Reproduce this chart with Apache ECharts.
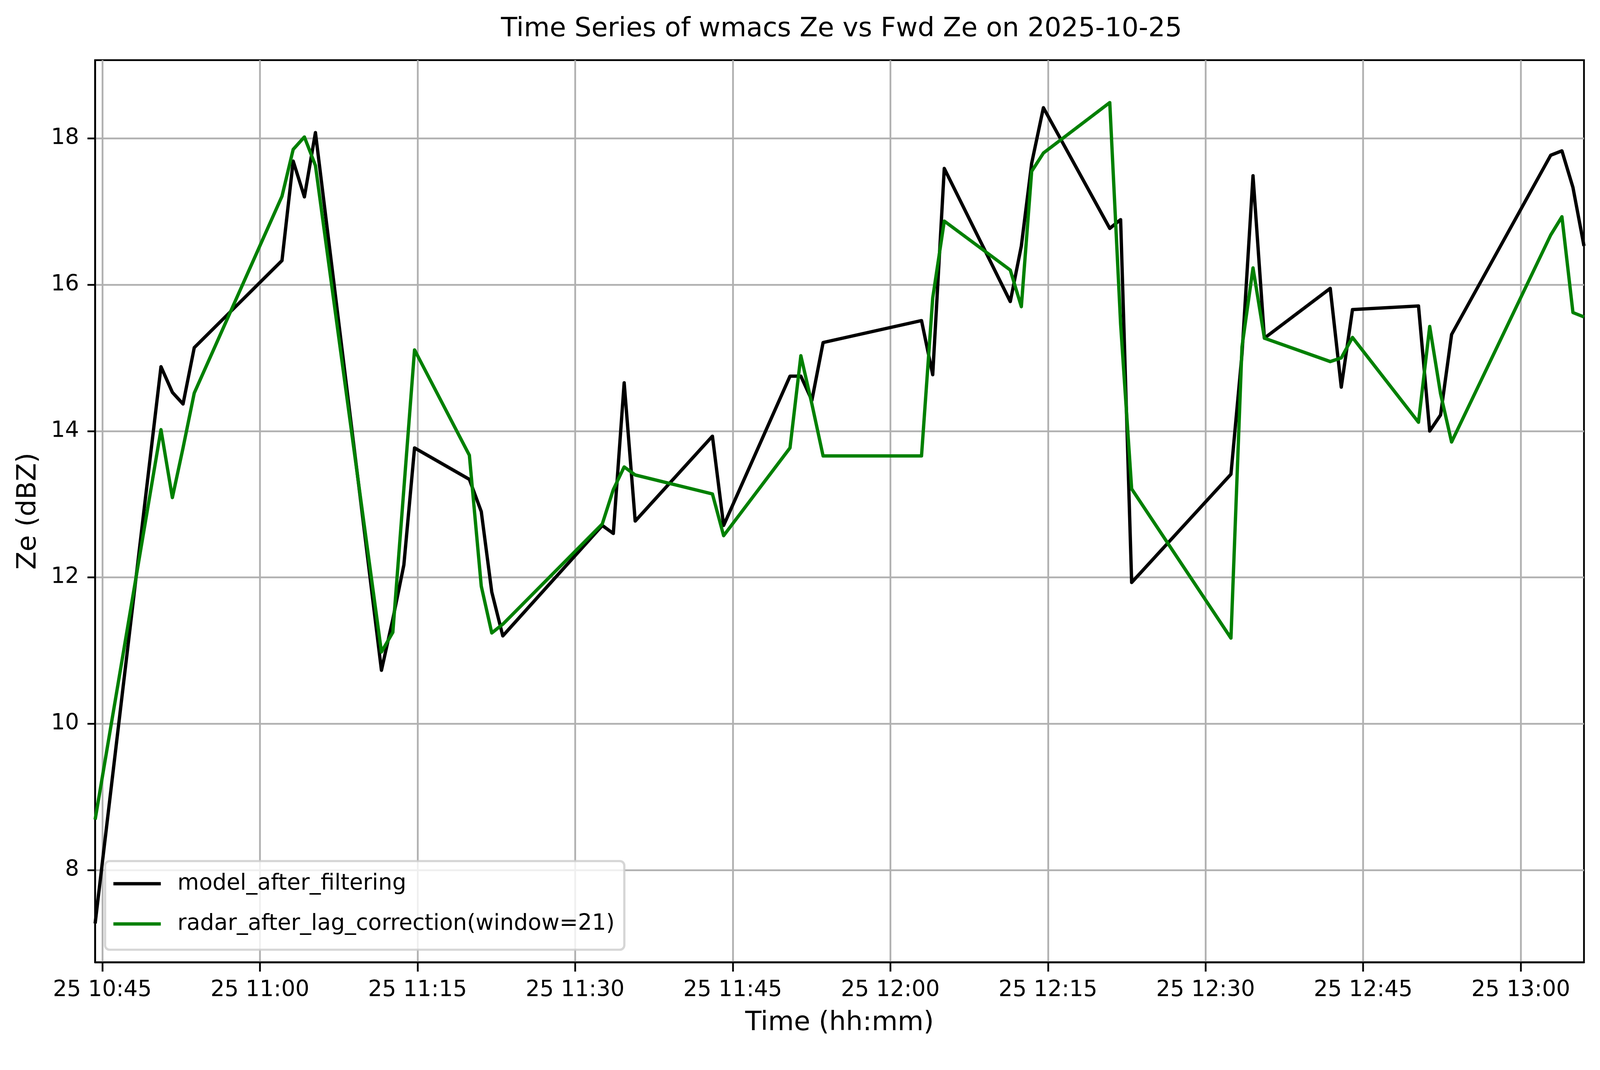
<!DOCTYPE html>
<html>
<head>
<meta charset="utf-8">
<title>Time Series of wmacs Ze vs Fwd Ze</title>
<script src="https://cdn.jsdelivr.net/npm/echarts@6.0.0/dist/echarts.min.js"></script>
<style>
    html, body { margin: 0; padding: 0; background: #fff; overflow: hidden; }
    #chart { width: 100vw; height: 100vh; }
</style>
</head>
<body>
<div id="chart"></div>
<script>
// sample times (hh:mm:ss, 2025-10-25)
var sampleTimes = [
    '10:44:19', '10:50:35', '10:51:40', '10:52:41', '10:53:45',
    '11:02:06', '11:03:10', '11:04:14', '11:05:17',
    '11:11:34', '11:12:39', '11:13:42', '11:14:43',
    '11:19:56', '11:21:04', '11:22:04', '11:23:07',
    '11:32:35', '11:33:38', '11:34:40', '11:35:43',
    '11:43:04', '11:44:08',
    '11:50:27', '11:51:29', '11:52:32', '11:53:36',
    '12:02:58', '12:04:02', '12:05:08',
    '12:11:25', '12:12:28', '12:13:27', '12:14:34',
    '12:20:53', '12:21:55', '12:22:58',
    '12:32:25', '12:33:28', '12:34:31', '12:35:36',
    '12:41:52', '12:42:55', '12:43:59',
    '12:50:16', '12:51:20', '12:52:22', '12:53:25',
    '13:02:51', '13:03:55', '13:04:58', '13:06:01'
];
// model_after_filtering (dBZ)
var modelZe = [
    7.27, 14.88, 14.53, 14.37, 15.14,
    16.33, 17.69, 17.20, 18.08,
    10.73, 11.43, 12.17, 13.77,
    13.34, 12.90, 11.80, 11.20,
    12.71, 12.60, 14.66, 12.77,
    13.93, 12.71,
    14.75, 14.75, 14.42, 15.21,
    15.51, 14.77, 17.59,
    15.77, 16.53, 17.66, 18.42,
    16.77, 16.89, 11.93,
    13.41, 15.05, 17.49, 15.27,
    15.95, 14.60, 15.66,
    15.71, 14.00, 14.22, 15.32,
    17.77, 17.83, 17.33, 16.53
];
// radar_after_lag_correction(window=21) (dBZ)
var radarZe = [
    8.69, 14.02, 13.09, 13.77, 14.52,
    17.21, 17.85, 18.02, 17.63,
    10.98, 11.25, 13.21, 15.11,
    13.67, 11.88, 11.24, 11.36,
    12.73, 13.20, 13.51, 13.40,
    13.14, 12.57,
    13.77, 15.03, 14.37, 13.66,
    13.66, 15.82, 16.87,
    16.20, 15.70, 17.55, 17.80,
    18.49, 15.46, 13.21,
    11.17, 15.15, 16.23, 15.27,
    14.95, 15.00, 15.28,
    14.12, 15.43, 14.51, 13.85,
    16.68, 16.93, 15.62, 15.56
];
var xTicks = ['10:45', '11:00', '11:15', '11:30', '11:45', '12:00', '12:15', '12:30', '12:45', '13:00'];
var yTicks = [8, 10, 12, 14, 16, 18];

// minutes of the day
function toMinutes(s) {
    var p = s.split(':');
    return +p[0] * 60 + +p[1] + (p[2] ? +p[2] / 60 : 0);
}
function pad(n) {
    return (n < 10 ? '0' : '') + n;
}

// sizes below are given for a 4995 x 2740 picture, scaled to the real viewport
var sx = window.innerWidth / 4995;
var sy = window.innerHeight / 2740;
function px(v) { return v * sx; }
function py(v) { return v * sy; }

var font = 'DejaVu Sans';
var xTickValues = xTicks.map(toMinutes);

var myChart = echarts.init(document.getElementById('chart'));
var option = {
    animation: false,
    backgroundColor: '#ffffff',
    title: {
        text: 'Time Series of wmacs Ze vs Fwd Ze on 2025-10-25',
        left: px(2621),
        top: py(36),
        textAlign: 'center',
        textStyle: { fontFamily: font, fontSize: px(83), fontWeight: 'normal', color: '#000' }
    },
    grid: {
        left: px(297), right: px(50), top: py(154), bottom: py(276),
        show: true,
        borderColor: '#000',
        borderWidth: px(5.5),
        backgroundColor: '#fff'
    },
    legend: {
        orient: 'vertical',
        left: px(328),
        bottom: py(308),
        padding: [py(18), px(30), py(26), px(26)],
        icon: 'rect',
        itemWidth: px(148),
        itemHeight: px(10.4),
        itemGap: py(23),
        backgroundColor: 'rgba(255,255,255,0.8)',
        borderColor: 'rgba(204,204,204,0.8)',
        borderWidth: px(7),
        borderRadius: px(14),
        textStyle: {
            fontFamily: font, fontSize: px(69), lineHeight: py(80), color: '#000',
            padding: [0, 0, 0, px(46)]
        },
        data: ['model_after_filtering', 'radar_after_lag_correction(window=21)']
    },
    xAxis: {
        type: 'value',
        min: 'dataMin',
        max: 'dataMax',
        name: 'Time (hh:mm)',
        nameLocation: 'middle',
        nameGap: py(122),
        nameTextStyle: { fontFamily: font, fontSize: px(83), color: '#000' },
        axisLine: { show: true, onZero: false, lineStyle: { color: '#000', width: px(5.5) } },
        axisTick: { show: true, length: py(24), customValues: xTickValues, lineStyle: { color: '#000', width: px(5.5) } },
        axisLabel: {
            customValues: xTickValues,
            margin: py(44),
            fontFamily: font, fontSize: px(69), color: '#000',
            formatter: function (v) {
                var m = Math.round(v);
                return '25 ' + pad(Math.floor(m / 60)) + ':' + pad(m % 60);
            }
        },
        splitLine: { show: true, lineStyle: { color: '#b0b0b0', width: px(5.5) } }
    },
    yAxis: {
        type: 'value',
        min: 6.74,
        max: 19.07,
        name: 'Ze (dBZ)',
        nameLocation: 'middle',
        nameGap: px(166),
        nameTextStyle: { fontFamily: font, fontSize: px(83), color: '#000' },
        axisLine: { show: true, onZero: false, lineStyle: { color: '#000', width: px(5.5) } },
        axisTick: { show: true, length: px(24), customValues: yTicks, lineStyle: { color: '#000', width: px(5.5) } },
        axisLabel: { customValues: yTicks, margin: px(50), fontFamily: font, fontSize: px(69), color: '#000' },
        splitLine: { show: true, lineStyle: { color: '#b0b0b0', width: px(5.5) } }
    },
    series: [
        {
            name: 'model_after_filtering',
            type: 'line',
            symbol: 'none',
            color: '#000000',
            lineStyle: { color: '#000000', width: px(10.4), join: 'round' },
            data: sampleTimes.map(function (t, i) { return [toMinutes(t), modelZe[i]]; })
        },
        {
            name: 'radar_after_lag_correction(window=21)',
            type: 'line',
            symbol: 'none',
            color: '#008000',
            lineStyle: { color: '#008000', width: px(10.4), join: 'round' },
            data: sampleTimes.map(function (t, i) { return [toMinutes(t), radarZe[i]]; })
        }
    ]
};
myChart.setOption(option);
</script>
</body>
</html>
